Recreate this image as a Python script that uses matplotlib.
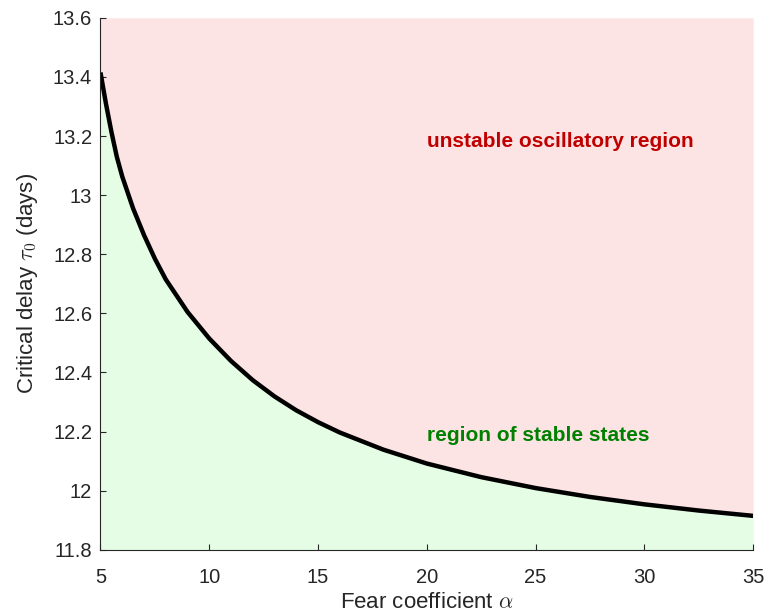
import matplotlib
matplotlib.use('Agg')
import matplotlib.pyplot as plt
import numpy as np

plt.rcParams['font.family'] = ['Liberation Sans', 'DejaVu Sans']
plt.rcParams['mathtext.fontset'] = 'cm'

# fear coefficient alpha vs critical delay tau_0
alpha = [5, 5.25, 5.5, 5.75, 6, 6.5, 7, 7.5, 8, 9, 10, 11, 12, 13, 14, 15,
         16, 18, 20, 22.5, 25, 27.5, 30, 32.5, 35]
tau0 = [13.415, 13.31, 13.215, 13.13, 13.063, 12.955, 12.865, 12.785, 12.715,
        12.605, 12.515, 12.439, 12.374, 12.319, 12.272, 12.232, 12.197, 12.139,
        12.092, 12.046, 12.009, 11.979, 11.954, 11.933, 11.915]

x_ticks = [5, 10, 15, 20, 25, 30, 35]
y_ticks = [11.8, 12, 12.2, 12.4, 12.6, 12.8, 13, 13.2, 13.4, 13.6]
y_ticklabels = ['11.8', '12', '12.2', '12.4', '12.6', '12.8', '13', '13.2', '13.4', '13.6']

ymin, ymax = 11.8, 13.6

fig = plt.figure(figsize=(7.67, 6.13), dpi=100)
ax = fig.add_axes([0.131, 0.103, 0.851, 0.868])

# regions
ax.fill_between(alpha, tau0, ymax, color='#fde4e4', lw=0)
ax.fill_between(alpha, ymin, tau0, color='#e5fde5', lw=0)
ax.plot(alpha, tau0, color='black', lw=3.2, solid_capstyle='butt',
        solid_joinstyle='round')

ax.annotate('unstable oscillatory region', (20, 13.2), xytext=(0, -5),
            textcoords='offset pixels', color='#c00000',
            fontsize=15, fontweight='bold', va='center', ha='left')
ax.annotate('region of stable states', (20, 12.2), xytext=(0, -4),
            textcoords='offset pixels', color='#008000',
            fontsize=15, fontweight='bold', va='center', ha='left')

ax.set_xlim(5, 35)
ax.set_ylim(ymin, ymax)
ax.set_xticks(x_ticks)
ax.set_yticks(y_ticks)
ax.set_yticklabels(y_ticklabels)

for s in ['top', 'right']:
    ax.spines[s].set_visible(False)
for s in ['left', 'bottom']:
    ax.spines[s].set_color('#262626')
    ax.spines[s].set_linewidth(0.8)
ax.tick_params(direction='in', length=4, width=0.8, colors='#262626',
               labelsize=14.5)
ax.tick_params(axis='y', pad=6)
ax.tick_params(axis='x', pad=13)

ax.set_xlabel(r'Fear coefficient $\alpha$', fontsize=16, color='#262626', labelpad=4)
ax.set_ylabel(r'Critical delay $\tau_0$ (days)', fontsize=16, color='#262626', labelpad=9)

plt.savefig('out.png', dpi=100)
